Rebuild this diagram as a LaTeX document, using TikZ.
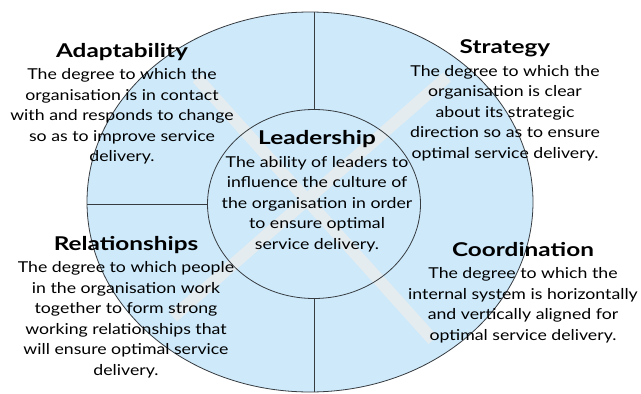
\documentclass[tikz,border=0pt]{standalone}
\usepackage{fontspec}
\setmainfont{Lato}[FakeStretch=1.18]
\newfontfamily\headfam{Lato}[FakeStretch=1.28]
\usetikzlibrary{shapes.geometric}
\definecolor{fillblue}{RGB}{205,233,250}
\definecolor{bandcol}{RGB}{228,236,240}
\definecolor{edgecol}{RGB}{55,60,65}
\tikzset{
  ring/.style={ellipse, inner sep=0pt, draw=edgecol, line width=0.8pt},
  band/.style={draw=bandcol, line width=12pt, line cap=butt},
  divider/.style={draw=edgecol, line width=0.8pt},
  blurb/.style={align=center, inner sep=0pt, anchor=north, font=\fontsize{15}{20.5}\selectfont},
}
\newcommand{\headtxt}[1]{{\headfam\fontsize{19}{22}\selectfont\bfseries #1}}
\begin{document}
\begin{tikzpicture}[x=1pt,y=-1pt]
\fill[white] (0,0) rectangle (641,394);
\useasboundingbox (0,0) rectangle (641,394);
\node[ring, fill=fillblue, minimum width=446pt, minimum height=380pt] (outer) at (310,202) {};
\draw[band] (197,78) -- (433,340);
\draw[band] (447,77) -- (173,317);
\node[ring, minimum width=213pt, minimum height=189pt] (inner) at (314,204) {};
\draw[divider] (inner.north) -- (inner.north |- outer.north);
\draw[divider] (inner.south) -- (inner.south |- outer.south);
\draw[divider] (inner.west) -- (inner.west -| outer.west);
\node[blurb] (adapt) at (122,43) {\headtxt{Adaptability}\\[2pt]
  The degree to which the\\ organisation is in contact\\ with and responds to change\\ so as to improve service\\ delivery.};
\node[blurb] (strat) at (505,39.5) {\headtxt{Strategy}\\[2pt]
  The degree to which the\\ organisation is clear\\ about its strategic\\ direction so as to ensure\\ optimal service delivery.};
\node[blurb] (lead) at (317,130.5) {\headtxt{Leadership}\\[2pt]
  The ability of leaders to\\ influence the culture of\\ the organisation in order\\ to ensure optimal\\ service delivery.};
\node[blurb] (rel) at (126,236) {\headtxt{Relationships}\\[2pt]
  The degree to which people\\ in the organisation work\\ together to form strong\\ working relationships that\\ will ensure optimal service\\ delivery.};
\node[blurb] (coord) at (523,242) {\headtxt{Coordination}\\[2pt]
  The degree to which the\\ internal system is horizontally\\ and vertically aligned for\\ optimal service delivery.};
\end{tikzpicture}
\end{document}
